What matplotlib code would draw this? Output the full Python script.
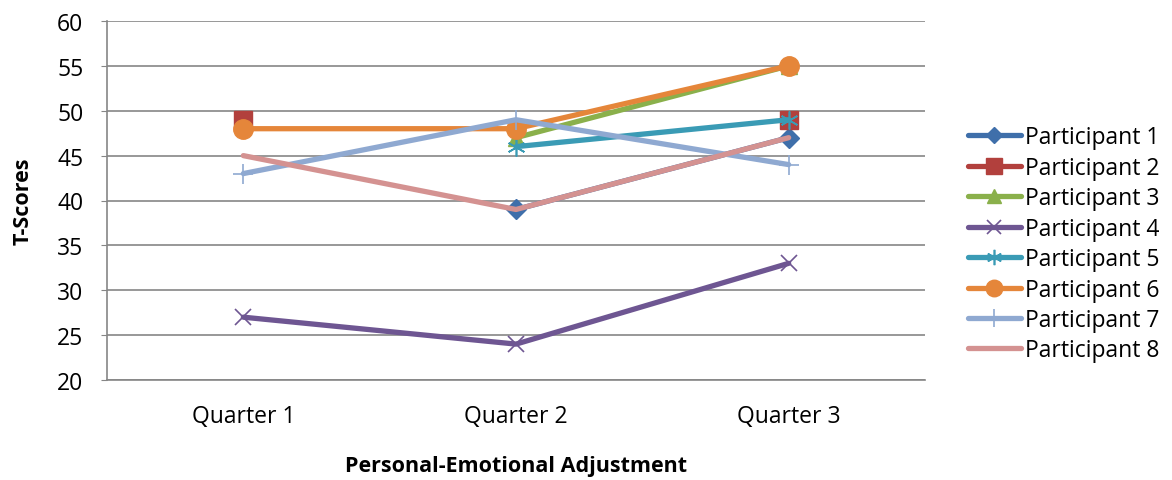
import numpy as np
import matplotlib
matplotlib.use("Agg")
import matplotlib.pyplot as plt

plt.rcParams["font.family"] = ["Open Sans", "DejaVu Sans"]

quarters = ["Quarter 1", "Quarter 2", "Quarter 3"]
p1 = [np.nan, 39, 47]
p2 = [49, np.nan, 49]
p3 = [np.nan, 47, 55]
p4 = [27, 24, 33]
p5 = [np.nan, 46, 49]
p6 = [48, 48, 55]
p7 = [43, 49, 44]
p8 = [45, 39, 47]

series = [
    ("Participant 1", p1, "#3F6FAA", "D", 10, None),
    ("Participant 2", p2, "#B2403D", "s", 13, None),
    ("Participant 3", p3, "#8AB04B", "^", 12, None),
    ("Participant 4", p4, "#6E5692", "x", 12, 1.2),
    ("Participant 5", p5, "#3A9BB5", (6, 2, 0), 13, 1.2),
    ("Participant 6", p6, "#E5863A", "o", 14, None),
    ("Participant 7", p7, "#8FA9D1", "+", 15, 1.2),
    ("Participant 8", p8, "#D49291", None, 0, None),
]

fig = plt.figure(figsize=(11.72, 4.81), dpi=100)
ax = fig.add_axes([107 / 1172, 1 - 381 / 481, 818 / 1172, 359 / 481])

x = np.arange(len(quarters))
for name, vals, col, mk, ms, mew in series:
    kw = {}
    if mew is not None:
        kw["markeredgewidth"] = mew
    ax.plot(x, vals, color=col, lw=3.8, marker=mk, markersize=ms,
            markerfacecolor=col, markeredgecolor=col, label=name,
            solid_capstyle="round", solid_joinstyle="round", **kw)

ax.set_xlim(-0.5, 2.5)
ax.set_ylim(20, 60)
ax.set_yticks(range(20, 61, 5))
ax.set_xticks(x)
ax.set_xticklabels(quarters)
ax.yaxis.grid(True, color="#868686", lw=1.2)
ax.set_axisbelow(True)
for s in ["top", "right"]:
    ax.spines[s].set_visible(False)
for s in ["left", "bottom"]:
    ax.spines[s].set_color("#868686")
    ax.spines[s].set_linewidth(1.2)
ax.tick_params(axis="y", colors="#868686", labelcolor="black", labelsize=16.5,
               length=4, pad=13)
ax.tick_params(axis="x", length=0, labelsize=16.5, pad=17)

ax.set_ylabel("T-Scores", fontsize=15.5, fontweight="bold", labelpad=17)
ax.set_xlabel("Personal-Emotional Adjustment", fontsize=15.5, fontweight="bold",
              labelpad=20)

ax.legend(loc="center left", bbox_to_anchor=(1 + 43 / 818, 0.379), frameon=False,
          fontsize=16.5, handlelength=2.3, handletextpad=0.2, labelspacing=0.28,
          borderaxespad=0, borderpad=0, markerscale=0.85)

fig.savefig("out.png", dpi=100)
